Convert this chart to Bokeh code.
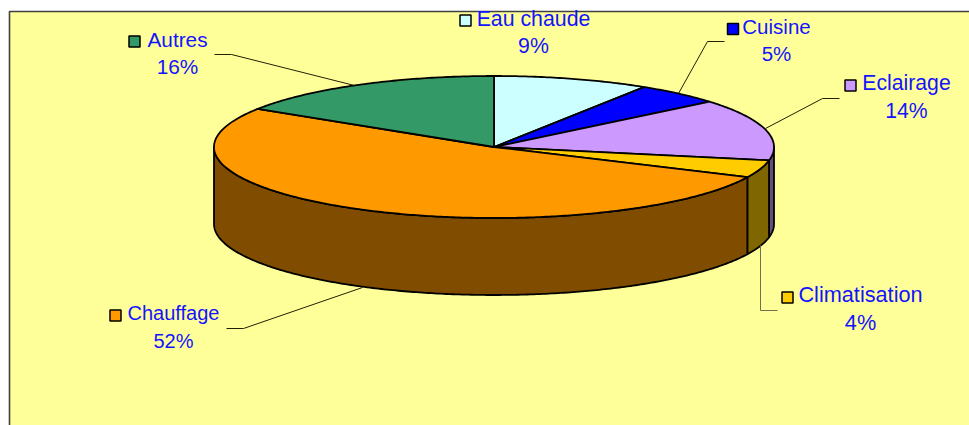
import math
from bokeh.plotting import figure
from bokeh.models import Range1d
from bokeh.core.properties import value
from bokeh.embed import file_html
from bokeh.resources import INLINE

# Data
categories = ["Eau chaude", "Cuisine", "Eclairage", "Climatisation", "Chauffage", "Autres"]
shares = [9, 5, 14, 4, 52, 16]
top_colors = ["#CCFFFF", "#0000FF", "#CC99FF", "#FFCC00", "#FF9900", "#339966"]
side_colors = ["#668080", "#000080", "#664D80", "#806600", "#804D00", "#1A4D33"]

# Layout (page pixels)
CX, CY, RX, RY, DEPTH = 493.5, 146.5, 280.0, 71.0, 77.0
label_x = [534, 777, 907, 861, 174, 178]
label_y1 = [26, 34, 90, 302, 320, 47]
label_y2 = [53, 61, 118, 330, 348, 74]
label_size = [21.3, 20.5, 21.2, 21.7, 20.0, 20.8]
key_x = [465, 732.5, 850, 787, 115, 134]
key_y = [20, 28.5, 85, 297, 315, 41]
leaders = {
    "Cuisine": ([724, 707, 678], [41, 41, 93], "#202000"),
    "Eclairage": ([839, 822, 765], [98, 98, 128], "#202000"),
    "Climatisation": ([777, 760, 760], [310, 310, 245], "#707050"),
    "Chauffage": ([226, 243, 362], [328, 328, 287], "#202000"),
    "Autres": ([214, 231, 354], [54, 54, 85], "#202000"),
}

p = figure(width=969, height=425, output_backend="svg", toolbar_location=None,
           x_range=Range1d(0, 969), y_range=Range1d(425, 0),
           min_border=0, outline_line_color=None, background_fill_color="white",
           border_fill_color="white")
p.axis.visible = False
p.grid.visible = False

# Panel
p.quad(left=[9], right=[975], top=[11], bottom=[432],
       fill_color="#FFFF99", line_color="#404040", line_width=1.6)


def pt(t, dy=0.0):
    return CX + RX * math.sin(t), CY - RY * math.cos(t) + dy


def arc(a, b, dy=0.0):
    n = max(2, int(abs(b - a) * 90))
    return [pt(a + (b - a) * i / n, dy) for i in range(n + 1)]


total = sum(shares)
bounds = [0.0]
for s in shares:
    bounds.append(bounds[-1] + s / total * 2 * math.pi)

# Side walls (only the front half of the disc is visible)
for i in range(len(shares)):
    a = max(bounds[i], math.pi / 2)
    b = min(bounds[i + 1], 3 * math.pi / 2)
    if b <= a:
        continue
    pts = arc(a, b) + arc(b, a, DEPTH)
    p.patch([q[0] for q in pts], [q[1] for q in pts], fill_color=side_colors[i],
            line_color="black", line_width=1.8, line_join="round")

# Top face
for i in range(len(shares)):
    pts = [(CX, CY)] + arc(bounds[i], bounds[i + 1])
    p.patch([q[0] for q in pts], [q[1] for q in pts], fill_color=top_colors[i],
            line_color="black", line_width=1.8, line_join="round")

# Leader lines
for xs, ys, col in leaders.values():
    p.line(xs, ys, line_color=col, line_width=1)

# Legend keys and labels
p.scatter(key_x, key_y, marker="square", size=11, fill_color=top_colors,
          line_color="black", line_width=1.5)
for i, name in enumerate(categories):
    for y, t in ((label_y1[i], name), (label_y2[i], f"{shares[i]}%")):
        p.text([label_x[i]], [y], text=[t], text_font=value("Liberation Sans"),
               text_font_size=value(f"{label_size[i]}px"),
               x_offset=-1, y_offset=-8,
               text_color="#1414FF", text_align="center", text_baseline="alphabetic")

open("out.html", "w").write(file_html(p, INLINE))
